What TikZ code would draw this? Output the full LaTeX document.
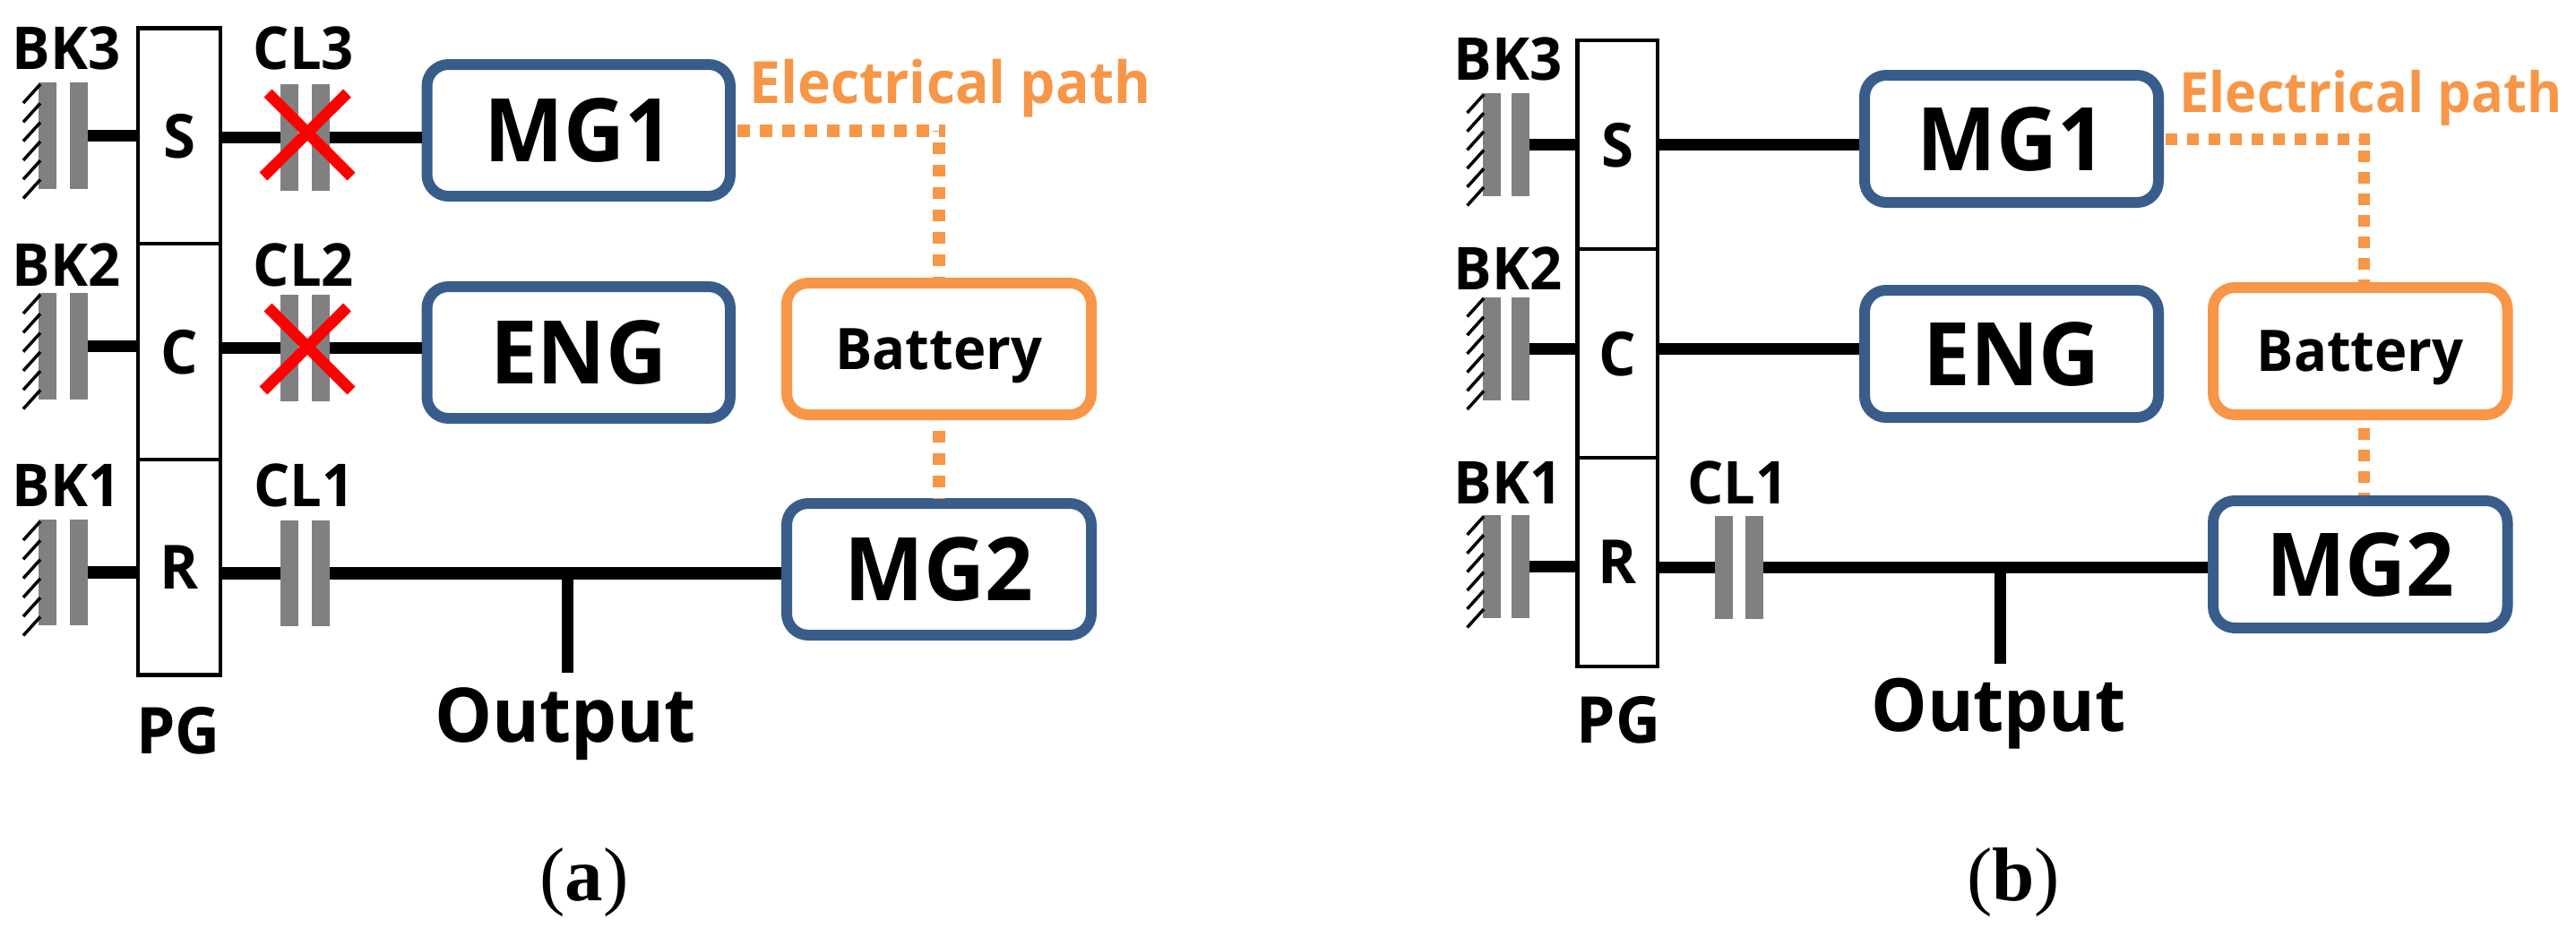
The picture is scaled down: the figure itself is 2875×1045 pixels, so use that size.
\documentclass[tikz,border=0pt]{standalone}
\usepackage{fontspec}
\setmainfont{Open Sans}[FakeStretch=0.96]
\newfontfamily\captfont{Liberation Serif}
\definecolor{mgblue}{HTML}{385D8A}
\definecolor{batorange}{HTML}{F79646}
\definecolor{platgray}{HTML}{808080}
\tikzset{
	plate/.style={fill=platgray,inner sep=0pt,minimum width=20pt,minimum height=#1},
	shaft/.style={line width=13.5pt},
	stem/.style={line width=13pt},
	hatchline/.style={line width=3.5pt},
	crossout/.style={red,line width=12.5pt},
	pgpart/.style={draw,line width=4.5pt,inner sep=0pt,minimum width=#1,text depth=0pt,font=\fontsize{68}{72}\selectfont\bfseries},
	mgbox/.style={draw=mgblue,line width=12pt,rounded corners=24pt,fill=white,inner sep=0pt,text depth=0pt,font=\fontsize{98}{104}\selectfont\bfseries},
	batbox/.style={draw=batorange,line width=12pt,rounded corners=24pt,fill=white,inner sep=0pt,text depth=0pt,font=\fontsize{64}{72}\selectfont\bfseries},
	tag/.style={anchor=base,inner sep=0pt,font=\fontsize{66}{72}\selectfont\bfseries},
	bigtag/.style={anchor=base,inner sep=0pt,font=\fontsize{#1}{90}\selectfont\bfseries},
	pathtag/.style={bigtag=#1,text=batorange},
	elpath/.style={batorange,line width=14pt},
	capt/.style={anchor=base,inner sep=0pt,font=\fontsize{85}{90}\captfont},
}
\begin{document}
\begin{tikzpicture}[x=1pt,y=-1pt]
	\useasboundingbox (0,0) rectangle (2875,1045);

	% left panel
	\node[pgpart=92pt,minimum height=240.5pt] (aS) at (200,151.75) {S};
	\node[pgpart=92pt,minimum height=241pt] (aC) at (200,392.5) {C};
	\node[pgpart=92pt,minimum height=240.5pt] (aR) at (200,633.25) {R};
	\node[bigtag=72] (aPG) at (199,841.5) {PG};

	\node[plate=119pt] (abk3a) at (53,151.5) {};
	\node[plate=119pt] (abk3b) at (87.5,151.5) {};
	\node[plate=119pt] (abk2a) at (53,386.5) {};
	\node[plate=119pt] (abk2b) at (87.5,386.5) {};
	\node[plate=118pt] (abk1a) at (53,639) {};
	\node[plate=118pt] (abk1b) at (87.5,639) {};
	\foreach \hstart in {94,329,582} {
		\foreach \hi in {0,...,5} {
			\draw[hatchline] (45,{\hstart+21.3*\hi}) -- ++(-19,21);
		}
	}
	\node[plate=119pt] (acl3a) at (323,153.5) {};
	\node[plate=119pt] (acl3b) at (358,153.5) {};
	\node[plate=119pt] (acl2a) at (323,388.5) {};
	\node[plate=119pt] (acl2b) at (358,388.5) {};
	\node[plate=118pt] (acl1a) at (323,640) {};
	\node[plate=118pt] (acl1b) at (358,640) {};

	\node[tag] (abk3t) at (74,77) {BK3};
	\node[tag] (abk2t) at (74,319) {BK2};
	\node[tag] (abk1t) at (74,565) {BK1};
	\node[tag] (acl3t) at (339,77) {CL3};
	\node[tag] (acl2t) at (339,319) {CL2};
	\node[tag] (acl1t) at (339.5,565) {CL1};

	\node[mgbox,minimum width=338.5pt,minimum height=147pt] (amg1) at (645.75,145.5) {MG1};
	\node[mgbox,minimum width=338.5pt,minimum height=147pt] (aeng) at (645.75,393.5) {ENG};
	\node[batbox,minimum width=340pt,minimum height=147pt] (abat) at (1048,389.5) {Battery};
	\node[mgbox,minimum width=340pt,minimum height=147pt] (amg2) at (1048,635.5) {MG2};
	\node[pathtag=65] (apath) at (1060.5,115) {Electrical path};

	\draw[shaft] (abk3b.east) -- (aS.west |- abk3b.east);
	\draw[shaft] (abk2b.east) -- (aC.west |- abk2b.east);
	\draw[shaft] (abk1b.east) -- (aR.west |- abk1b.east);
	\draw[shaft] (aS.east |- acl3a.west) -- (acl3a.west);
	\draw[shaft] (acl3b.east) -- (amg1.west |- acl3b.east);
	\draw[shaft] (aC.east |- acl2a.west) -- (acl2a.west);
	\draw[shaft] (acl2b.east) -- (aeng.west |- acl2b.east);
	\draw[shaft] (aR.east |- acl1a.west) -- (acl1a.west);
	\draw[shaft] (acl1b.east) -- (amg2.west |- acl1b.east);

	\coordinate (aout) at (633,750.5);
	\draw[stem] (aout |- acl1b.east) -- (aout);
	\node[bigtag=84] (aoutt) at (631,828) {Output};

	\coordinate (ajoint) at (abat.north |- amg1.east);
	\draw[elpath,dash pattern=on 13.5pt off 11.5pt,dash phase=23pt] (amg1.east) -- ([xshift=7pt]ajoint);
	\draw[elpath,dash pattern=on 13.5pt off 11.5pt,dash phase=12pt] (ajoint) -- (abat.north);
	\draw[elpath,dash pattern=on 13.5pt off 11.5pt,dash phase=13.5pt] (abat.south) -- (amg2.north);

	\foreach \cy in {0,239} {
		\draw[crossout] (299,{104+\cy}) -- (392,{197+\cy});
		\draw[crossout] (387.5,{104+\cy}) -- (294,{197+\cy});
	}
	\node[capt] (acap) at (652,1005) {(\textbf{a})};

	% right panel
	\node[pgpart=89.5pt,minimum height=233pt] (bS) at (1805.25,161.5) {S};
	\node[pgpart=89.5pt,minimum height=233pt] (bC) at (1805.25,394.5) {C};
	\node[pgpart=89.5pt,minimum height=233pt] (bR) at (1805.25,627.5) {R};
	\node[bigtag=72] (bPG) at (1806.5,829.5) {PG};

	\node[plate=115pt] (bbk3a) at (1664.5,161.5) {};
	\node[plate=115pt] (bbk3b) at (1697,161.5) {};
	\node[plate=115pt] (bbk2a) at (1664.5,389.5) {};
	\node[plate=115pt] (bbk2b) at (1697,389.5) {};
	\node[plate=115pt] (bbk1a) at (1664.5,632.5) {};
	\node[plate=115pt] (bbk1b) at (1697,632.5) {};
	\foreach \hstart in {105.5,333,576.5} {
		\foreach \hi in {0,...,5} {
			\draw[hatchline] (1656,{\hstart+20.7*\hi}) -- ++(-18.5,20.5);
		}
	}
	\node[plate=115pt] (bcl1a) at (1924,633.5) {};
	\node[plate=115pt] (bcl1b) at (1958,633.5) {};

	\node[tag] (bbk3t) at (1683,89) {BK3};
	\node[tag] (bbk2t) at (1683,323) {BK2};
	\node[tag] (bbk1t) at (1683,562) {BK1};
	\node[tag] (bcl1t) at (1939.5,562) {CL1};

	\node[mgbox,minimum width=328pt,minimum height=142pt] (bmg1) at (2245,155) {MG1};
	\node[mgbox,minimum width=328pt,minimum height=142pt] (beng) at (2245,395) {ENG};
	\node[batbox,minimum width=328.5pt,minimum height=142pt] (bbat) at (2634.25,392) {Battery};
	\node[mgbox,minimum width=328.5pt,minimum height=142pt] (bmg2) at (2634.25,630) {MG2};
	\node[pathtag=62] (bpath) at (2646,125) {Electrical path};

	\draw[shaft] (bbk3b.east) -- (bS.west |- bbk3b.east);
	\draw[shaft] (bbk2b.east) -- (bC.west |- bbk2b.east);
	\draw[shaft] (bbk1b.east) -- (bR.west |- bbk1b.east);
	\draw[shaft] (bS.east |- bbk3b.east) -- (bmg1.west |- bbk3b.east);
	\draw[shaft] (bC.east |- bbk2b.east) -- (beng.west |- bbk2b.east);
	\draw[shaft] (bR.east |- bcl1a.west) -- (bcl1a.west);
	\draw[shaft] (bcl1b.east) -- (bmg2.west |- bcl1b.east);

	\coordinate (bout) at (2232,740.5);
	\draw[stem] (bout |- bcl1b.east) -- (bout);
	\node[bigtag=82] (boutt) at (2230.5,816) {Output};

	\coordinate (bjoint) at (2638,155);
	\draw[elpath,line width=13pt,dash pattern=on 13pt off 11pt,dash phase=22pt] (bmg1.east) -- ([xshift=6.5pt]bjoint);
	\draw[elpath,line width=13pt,dash pattern=on 13pt off 11pt,dash phase=11pt] (bjoint) -- (bjoint |- bbat.north);
	\draw[elpath,line width=13pt,dash pattern=on 13pt off 11pt,dash phase=15pt] (bjoint |- bbat.south) -- (bjoint |- bmg2.north);

	\node[capt] (bcap) at (2247,1005) {(\textbf{b})};
\end{tikzpicture}
\end{document}
